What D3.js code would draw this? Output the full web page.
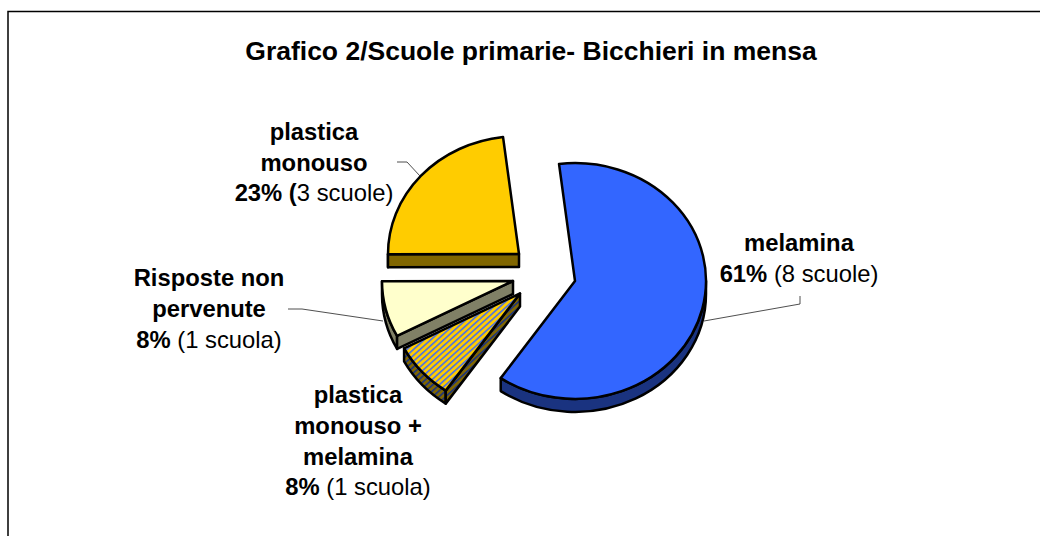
<!DOCTYPE html>
<html><head><meta charset="utf-8">
<script src="https://cdn.jsdelivr.net/npm/d3@7/dist/d3.min.js"></script>
<style>html,body{margin:0;background:#fff}svg{display:block}text{font-family:"Liberation Sans",Arial,sans-serif;fill:#000}</style>
</head><body><svg id="c" width="1040" height="536"></svg>
<script>
const categories = ["melamina","plastica monouso + melamina","Risposte non pervenute","plastica monouso"];
const schools = [8,1,1,3];
const topFill = ["#3366FF","url(#stripeTop)","#FFFFCC","#FFCC00"];
const sideFill = ["#1A3380","url(#stripeSide)","#808066","#806600"];
const apexes = [[575,281],[520,293.5],[513,281],[519,254]];
const titleText = "Grafico 2/Scuole primarie- Bicchieri in mensa";
const labelLines = [
 [[["melamina",1]],[["61%",1],[" (8 scuole)",0]]],
 [[["plastica",1]],[["monouso +",1]],[["melamina",1]],[["8%",1],[" (1 scuola)",0]]],
 [[["Risposte non",1]],[["pervenute",1]],[["8%",1],[" (1 scuola)",0]]],
 [[["plastica",1]],[["monouso",1]],[["23% (",1],["3 scuole)",0]]]
];
const labelPos = [[799,251,31],[358,403,30.8],[209,286,30.8],[314,140,30.7]];
const leaders = [
 [[704,321],[800,304],[800,296]],
 [],
 [[383,321],[302,309],[288,309]],
 [[420,176],[407,162],[397,162]]
];

const svg = d3.select("#c");
const defs = svg.append("defs");
function stripe(id,a,b){
  const p = defs.append("pattern").attr("id",id).attr("patternUnits","userSpaceOnUse")
    .attr("width",4.6).attr("height",4.6).attr("patternTransform","rotate(-45)");
  p.append("rect").attr("width",4.6).attr("height",4.6).attr("fill",a);
  p.append("rect").attr("width",4.6).attr("height",1.7).attr("fill",b);
}
stripe("stripeTop","#FFCC00","#4A70E8");
stripe("stripeSide","#806600","#1A3380");

svg.append("rect").attr("x",8).attr("y",11.5).attr("width",1060).attr("height",600)
  .attr("fill","#fff").attr("stroke","#000").attr("stroke-width",1.5);

svg.append("text").attr("x",531).attr("y",60).attr("text-anchor","middle")
  .attr("font-weight","bold").attr("font-size",26.5).text(titleText);

const k = 0.9, R = 131, depth = 13;
const pie = d3.pie().sort(null).startAngle(-7*Math.PI/180).endAngle(353*Math.PI/180);
const arcs = pie(schools);
const arcGen = d3.arc().innerRadius(0).outerRadius(R);
const toP = a => a - Math.PI/2;
const pt = (a,dy=0) => [R*Math.cos(toP(a)), R*Math.sin(toP(a))+dy];
const d = depth/k;

function wall(a0,a1){
  const p = d3.path();
  p.moveTo(...pt(a0));
  p.arc(0,0,R,toP(a0),toP(a1),false);
  p.lineTo(...pt(a1,d));
  p.arc(0,d,R,toP(a1),toP(a0),true);
  p.closePath();
  return p.toString();
}
function cut(a){
  const p = d3.path();
  p.moveTo(0,0); p.lineTo(...pt(a)); p.lineTo(...pt(a,d)); p.lineTo(0,d); p.closePath();
  return p.toString();
}

const g = svg.append("g");
leaders.filter(l=>l.length).forEach(l=>{
  svg.append("path").attr("d",d3.line()(l)).attr("fill","none").attr("stroke","#222").attr("stroke-width",0.8);
});
[3,0,1,2].forEach(i=>{
  const s = arcs[i];
  const sl = g.append("g").attr("transform",`translate(${apexes[i][0]},${apexes[i][1]}) scale(1,${k})`);
  const a0 = s.startAngle, a1 = s.endAngle;
  const shapes = [];
  const v0 = Math.max(a0,Math.PI/2), v1 = Math.min(a1,3*Math.PI/2);
  if (v1>v0) shapes.push([wall(v0,v1),sideFill[i]]);
  if (i>0) shapes.push([cut(a0),sideFill[i]]);
  shapes.forEach(([dd,f])=>sl.append("path").attr("d",dd).attr("fill",f)
     .attr("stroke","#000").attr("stroke-width",2.5).attr("stroke-linejoin","round").attr("vector-effect","non-scaling-stroke"));
  sl.append("path").attr("d",arcGen(s)).attr("fill",topFill[i])
     .attr("stroke","#000").attr("stroke-width",2.5).attr("stroke-linejoin","round").attr("vector-effect","non-scaling-stroke");
});

labelLines.forEach((lines,i)=>{
  const [x,y,lh] = labelPos[i];
  lines.forEach((runs,j)=>{
    const t = svg.append("text").attr("x",x).attr("y",y+j*lh).attr("text-anchor","middle").attr("font-size",23.8);
    runs.forEach(([s,b])=>t.append("tspan").attr("font-weight",b?"bold":"normal").attr("xml:space","preserve").text(s));
  });
});
</script></body></html>
